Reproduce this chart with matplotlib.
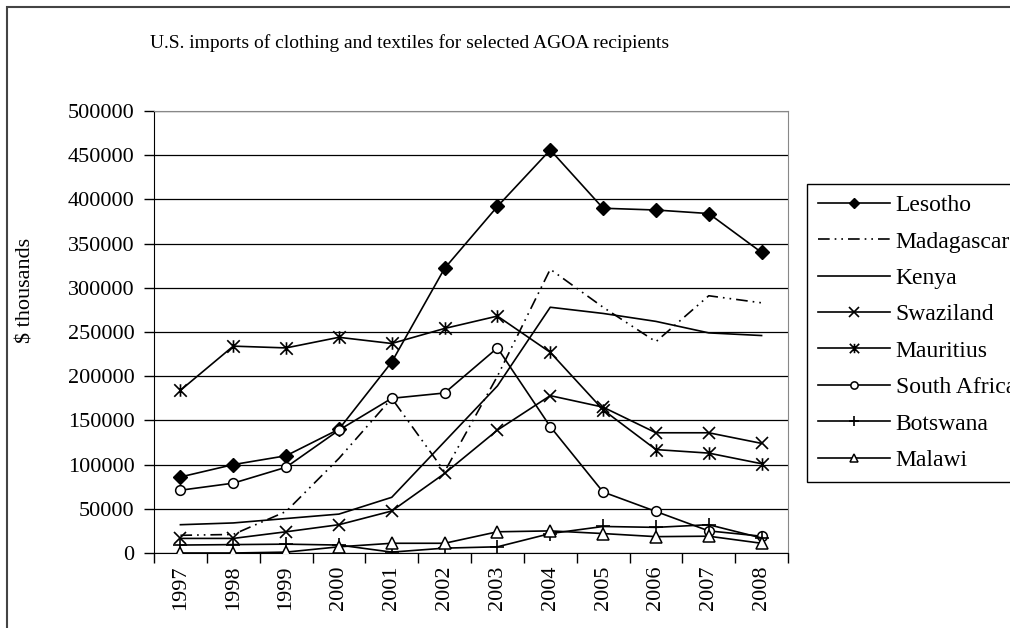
import matplotlib
matplotlib.use("Agg")
import matplotlib.pyplot as plt
from matplotlib.path import Path
from matplotlib.patches import Rectangle

# Data (US$ thousands)
years = ["1997", "1998", "1999", "2000", "2001", "2002",
         "2003", "2004", "2005", "2006", "2007", "2008"]
lesotho = [86000, 100000, 110000, 140000, 216000, 322000, 392000, 456000, 390000, 388000, 384000, 340000]
madagascar = [20000, 21000, 47000, 107000, 175000, 92000, 200000, 321000, 278000, 239000, 291000, 283000]
kenya = [32000, 34000, 39000, 44000, 63000, 126000, 189000, 278000, 271000, 262000, 249000, 246000]
swaziland = [16500, 16500, 24000, 32000, 47500, 90000, 139000, 178000, 165000, 136000, 136000, 124000]
mauritius = [184000, 234000, 232000, 244000, 237000, 254000, 268000, 227000, 162000, 117000, 113000, 101000]
south_africa = [71000, 79000, 97000, 139000, 175000, 181000, 232000, 143000, 69000, 47000, 25000, 19000]
botswana = [9000, 9500, 10000, 9000, 1000, 5500, 7000, 22000, 30000, 29000, 32000, 17000]
malawi = [0, 0, 1000, 7000, 11000, 11000, 24000, 25000, 22000, 18500, 19000, 11000]

plt.rcParams["font.family"] = ["Liberation Serif", "DejaVu Serif"]

W, H = 1010, 628
fig = plt.figure(figsize=(W / 100, H / 100), dpi=100)
ax = fig.add_axes([154 / W, 1 - 553 / H, (788 - 154) / W, (553 - 111) / H])

# excel style star: x plus a vertical bar
star = Path([(0, -1), (0, 1), (-1, -1), (1, 1), (-1, 1), (1, -1)],
            [Path.MOVETO, Path.LINETO, Path.MOVETO, Path.LINETO, Path.MOVETO, Path.LINETO])

x = range(len(years))
lw = 1.2
ax.plot(x, lesotho, color="black", lw=lw, marker="D", ms=7, label="Lesotho", zorder=3)
ax.plot(x, madagascar, color="black", lw=lw, ls=(0, (7, 3, 1, 3, 1, 3)), label="Madagascar", zorder=3)
ax.plot(x, kenya, color="black", lw=lw, label="Kenya", zorder=3)
ax.plot(x, swaziland, color="black", lw=lw, marker="x", ms=9, mew=1.2, label="Swaziland", zorder=3)
ax.plot(x, mauritius, color="black", lw=lw, marker=star, ms=9, mew=1.2, label="Mauritius", zorder=3)
ax.plot(x, south_africa, color="black", lw=lw, marker="o", ms=7, mfc="white", mew=1.1,
        label="South Africa", zorder=3)
ax.plot(x, botswana, color="black", lw=lw, marker="+", ms=10, mew=1.2, label="Botswana", zorder=3)
ax.plot(x, malawi, color="black", lw=lw, marker="^", ms=8, mfc="white", mew=1.1, label="Malawi", zorder=3)

ax.set_xlim(-0.5, len(years) - 0.5)
ax.set_ylim(0, 500000)
ax.set_yticks(range(0, 500001, 50000))
ax.set_yticklabels([str(v) for v in range(0, 500001, 50000)], fontsize=16)
ax.tick_params(axis="y", length=7, width=1, pad=7, direction="out")

# ticks between categories, labels at category centres
ax.set_xticks([i - 0.5 for i in range(len(years) + 1)])
ax.set_xticklabels([])
ax.set_xticks(list(x), minor=True)
ax.set_xticklabels(years, minor=True, rotation=90, fontsize=16)
ax.tick_params(axis="x", which="major", length=7, width=1, direction="out")
ax.tick_params(axis="x", which="minor", length=0, pad=9)

ax.grid(axis="y", color="black", lw=0.9, zorder=0)
ax.spines["left"].set_color("black")
ax.spines["bottom"].set_color("black")
ax.spines["top"].set_color("#888888")
ax.spines["right"].set_color("#888888")

ax.set_ylabel("$ thousands", fontsize=16)
ax.yaxis.set_label_coords(-(154 - 36) / (788 - 154), (553 - 290) / (553 - 111))

fig.text(410 / W, 1 - 43 / H, "U.S. imports of clothing and textiles for selected AGOA recipients",
         ha="center", va="center", fontsize=14)

leg = ax.legend(loc="upper left", bbox_to_anchor=(807 / W, 1 - 184 / H),
                bbox_transform=fig.transFigure, fontsize=17, frameon=True, fancybox=False,
                handlelength=3.05, handletextpad=0.25, labelspacing=0.63, borderpad=0.45,
                borderaxespad=0, markerscale=0.75)
leg.get_frame().set_edgecolor("black")
leg.get_frame().set_linewidth(1)
leg.get_frame().set_alpha(1)

# outer chart-area border (cut off on the right/bottom in the reference)
fig.patches.append(Rectangle((7 / W, -0.1), 1.2, 1.1 - 7 / H, transform=fig.transFigure,
                             fill=False, edgecolor="#444444", lw=1.5))

fig.savefig("out.png", dpi=100)
